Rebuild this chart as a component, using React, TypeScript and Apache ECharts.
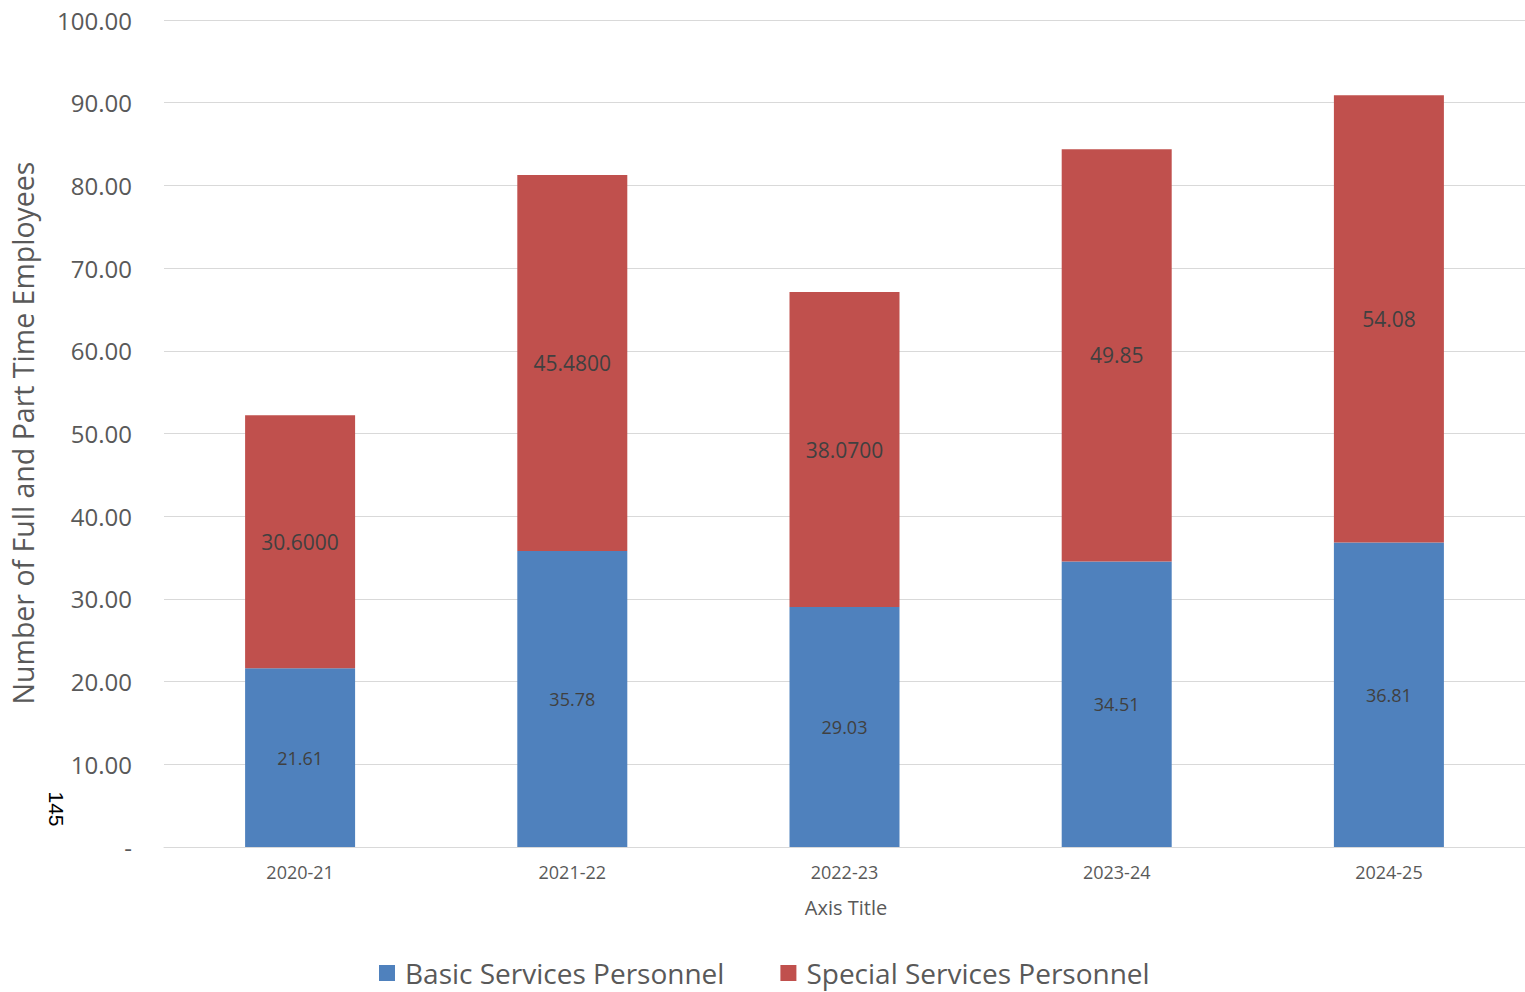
import React, { useEffect, useRef } from "react";
import * as echarts from "echarts";

// Fiscal years on the category axis
const years = ["2020-21", "2021-22", "2022-23", "2023-24", "2024-25"];
// Stacked headcounts per year
const basicServices = [21.61, 35.78, 29.03, 34.51, 36.81];
const specialServices = [30.6, 45.48, 38.07, 49.85, 54.08];
// Decimal places shown on each special-services label
const specialDecimals = [4, 4, 4, 2, 2];
// Value axis ticks
const yTicks = [0, 10, 20, 30, 40, 50, 60, 70, 80, 90, 100];

const FONT = "'Open Sans', 'Noto Sans', sans-serif";
const GREY = "#595959";
const BLUE = "#4f81bd";
const RED = "#c0504d";

export default function App() {
  const ref = useRef<HTMLDivElement>(null);

  useEffect(() => {
    document.body.style.margin = "0";
    if (!ref.current) return;
    const chart = echarts.init(ref.current, null, { renderer: "svg" });
    chart.setOption({
      animation: false,
      backgroundColor: "#ffffff",
      textStyle: { fontFamily: FONT },
      grid: { left: 164, right: 0, top: 20, bottom: 145, containLabel: false },
      legend: {
        bottom: 0,
        left: 374,
        itemWidth: 16,
        itemHeight: 16,
        itemGap: 56,
        icon: "rect",
        textStyle: {
          fontSize: 28,
          color: GREY,
          fontFamily: FONT,
          padding: [0, 0, 0, 5],
        },
        data: ["Basic Services Personnel", "Special Services Personnel"],
      },
      xAxis: {
        type: "category",
        data: years,
        axisTick: { show: false },
        axisLine: { lineStyle: { color: "#d9d9d9", width: 1 } },
        axisLabel: { color: GREY, fontSize: 18, margin: 16 },
      },
      yAxis: {
        type: "value",
        min: yTicks[0],
        max: yTicks[yTicks.length - 1],
        interval: yTicks[1] - yTicks[0],
        axisLine: { show: false },
        axisTick: { show: false },
        splitLine: { lineStyle: { color: "#d9d9d9", width: 1 } },
        axisLabel: {
          color: GREY,
          fontSize: 24,
          margin: 32,
          formatter: (v: number) => (v === 0 ? "-" : v.toFixed(2)),
        },
      },
      graphic: [
        {
          type: "text",
          x: 23,
          y: 433,
          rotation: Math.PI / 2,
          style: {
            text: "Number of Full and Part Time Employees",
            fontSize: 28.5,
            fontFamily: FONT,
            fill: GREY,
            align: "center",
            verticalAlign: "middle",
          },
        },
        {
          type: "text",
          x: 846,
          y: 907,
          style: {
            text: "Axis Title",
            fontSize: 20,
            fontFamily: FONT,
            fill: GREY,
            align: "center",
            verticalAlign: "middle",
          },
        },
        {
          type: "text",
          x: 56,
          y: 809,
          rotation: -Math.PI / 2,
          style: {
            text: "145",
            fontSize: 21,
            fontFamily: "'Liberation Sans', Arial, sans-serif",
            fill: "#000000",
            align: "center",
            verticalAlign: "middle",
          },
        },
      ],
      series: [
        {
          name: "Basic Services Personnel",
          type: "bar",
          stack: "total",
          barWidth: 110,
          itemStyle: { color: BLUE },
          label: {
            show: true,
            position: "inside",
            color: "#404040",
            fontSize: 18,
            formatter: (p: any) => basicServices[p.dataIndex].toFixed(2),
          },
          data: basicServices,
        },
        {
          name: "Special Services Personnel",
          type: "bar",
          stack: "total",
          barWidth: 110,
          itemStyle: { color: RED },
          label: {
            show: true,
            position: "inside",
            color: "#404040",
            fontSize: 21,
            formatter: (p: any) =>
              specialServices[p.dataIndex].toFixed(specialDecimals[p.dataIndex]),
          },
          data: specialServices,
        },
      ],
    });
    return () => chart.dispose();
  }, []);

  return <div ref={ref} style={{ width: 1525, height: 992 }} />;
}
